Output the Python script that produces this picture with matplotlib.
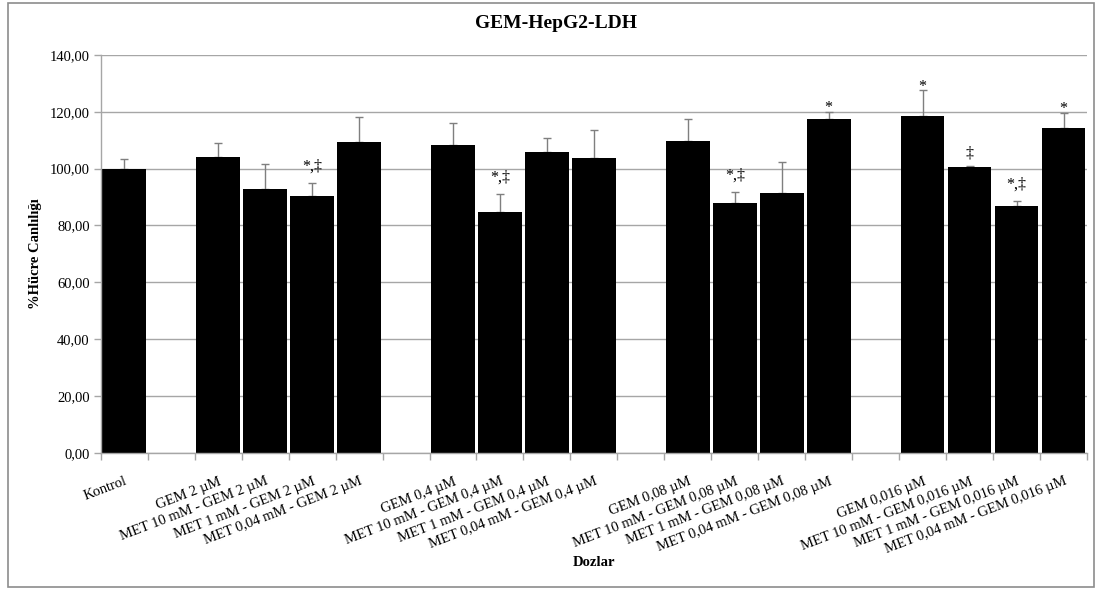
import matplotlib
matplotlib.use("Agg")
import matplotlib.pyplot as plt
from matplotlib.patches import Rectangle
import numpy as np

plt.rcParams['font.family'] = ['Liberation Serif', 'DejaVu Serif']

# doz gruplari ve olculen degerler
labels = ['Kontrol',
          'GEM 2 µM', 'MET 10 mM - GEM 2 µM', 'MET 1 mM - GEM 2 µM', 'MET 0,04 mM - GEM 2 µM',
          'GEM 0,4 µM', 'MET 10 mM - GEM 0,4 µM', 'MET 1 mM - GEM 0,4 µM', 'MET 0,04 mM - GEM 0,4 µM',
          'GEM 0,08 µM', 'MET 10 mM - GEM 0,08 µM', 'MET 1 mM - GEM 0,08 µM', 'MET 0,04 mM - GEM 0,08 µM',
          'GEM 0,016 µM', 'MET 10 mM - GEM 0,016 µM', 'MET 1 mM - GEM 0,016 µM', 'MET 0,04 mM - GEM 0,016 µM']
values = [100.0,
          104.0, 92.9, 90.4, 109.4,
          108.2, 84.6, 105.8, 103.8,
          109.8, 87.8, 91.4, 117.4,
          118.6, 100.6, 86.7, 114.2]
errors = [3.4,
          4.9, 8.9, 4.6, 8.7,
          7.9, 6.5, 5.0, 9.8,
          7.7, 4.1, 11.0, 2.6,
          8.9, 0.3, 1.9, 5.4]
marks = ['',
         '', '', '*,‡', '',
         '', '*,‡', '', '',
         '', '*,‡', '', '*',
         '*', '‡', '*,‡', '*']

# isaretlerin hata cubugu ustundeki mesafesi (pt)
mark_offset = {'*': -3, '‡': 3, '*,‡': 6}

# her 4'lu grup arasinda bir bos yer birak
pos = np.array([0] + [i + 1 + (i - 1) // 4 for i in range(1, len(values))])
n_slots = pos[-1] + 1

fig = plt.figure(figsize=(11.01, 5.90), dpi=100)
ax = fig.add_axes([0.0915, 0.2327, 0.8958, 0.6741])

grid_c = '#a6a6a6'
ax.set_axisbelow(True)
ax.yaxis.grid(True, color=grid_c, linewidth=1)

# hata cubuklari sutunlarin arkasinda: alt kapak gorunmez, yalniz ust kisim kalir
ax.errorbar(pos, values, yerr=[np.zeros(len(errors)), errors], fmt='none',
            ecolor='#7f7f7f', elinewidth=1, capsize=3, capthick=1, zorder=1.5)
ax.bar(pos, values, width=0.93, color='black', edgecolor='none', zorder=2)

for p, v, e, m in zip(pos, values, errors, marks):
    if m:
        ax.annotate(m, (p, v + e), xytext=(0, mark_offset[m]), textcoords='offset points',
                    ha='center', va='bottom', fontsize=11.5)

ax.set_xlim(-0.5, n_slots - 0.5)
ax.set_ylim(0, 140)
ax.set_yticks(np.arange(0, 141, 20))
ax.set_yticklabels(['{:.2f}'.format(t).replace('.', ',') for t in np.arange(0, 141, 20)])

ax.set_xticks(pos)
ax.set_xticklabels(labels, rotation=21, ha='right', va='top', rotation_mode='anchor')
ax.set_xticks(np.arange(-0.5, n_slots), minor=True)
ax.tick_params(axis='x', which='major', length=0, pad=16, labelsize=10.5)
ax.tick_params(axis='x', which='minor', length=5, color=grid_c, width=1)
ax.tick_params(axis='y', length=5, color=grid_c, width=1, labelsize=10.5, pad=3)

for s in ['top', 'right']:
    ax.spines[s].set_visible(False)
for s in ['left', 'bottom']:
    ax.spines[s].set_color(grid_c)
    ax.spines[s].set_linewidth(1)

ax.set_ylabel('%Hücre Canlılığı', fontsize=10.5, fontweight='bold')
ax.yaxis.label.set_va('center')
ax.yaxis.set_label_coords(-0.0666, 0.5)
ax.set_xlabel('Dozlar', fontsize=10.5, fontweight='bold')
ax.xaxis.label.set_va('center')
ax.xaxis.set_label_coords(0.5, -0.2766)

fig.text(556 / 1101, 1 - 23.3 / 590, 'GEM-HepG2-LDH', ha='center', va='center',
         fontsize=14, fontweight='bold')

# grafik alaninin cercevesi
fig.patches.append(Rectangle((8 / 1101, 3 / 590), 1086 / 1101, 584 / 590,
                             transform=fig.transFigure, fill=False,
                             edgecolor='#8c8c8c', linewidth=1.2))

fig.savefig('out.png', dpi=100)
